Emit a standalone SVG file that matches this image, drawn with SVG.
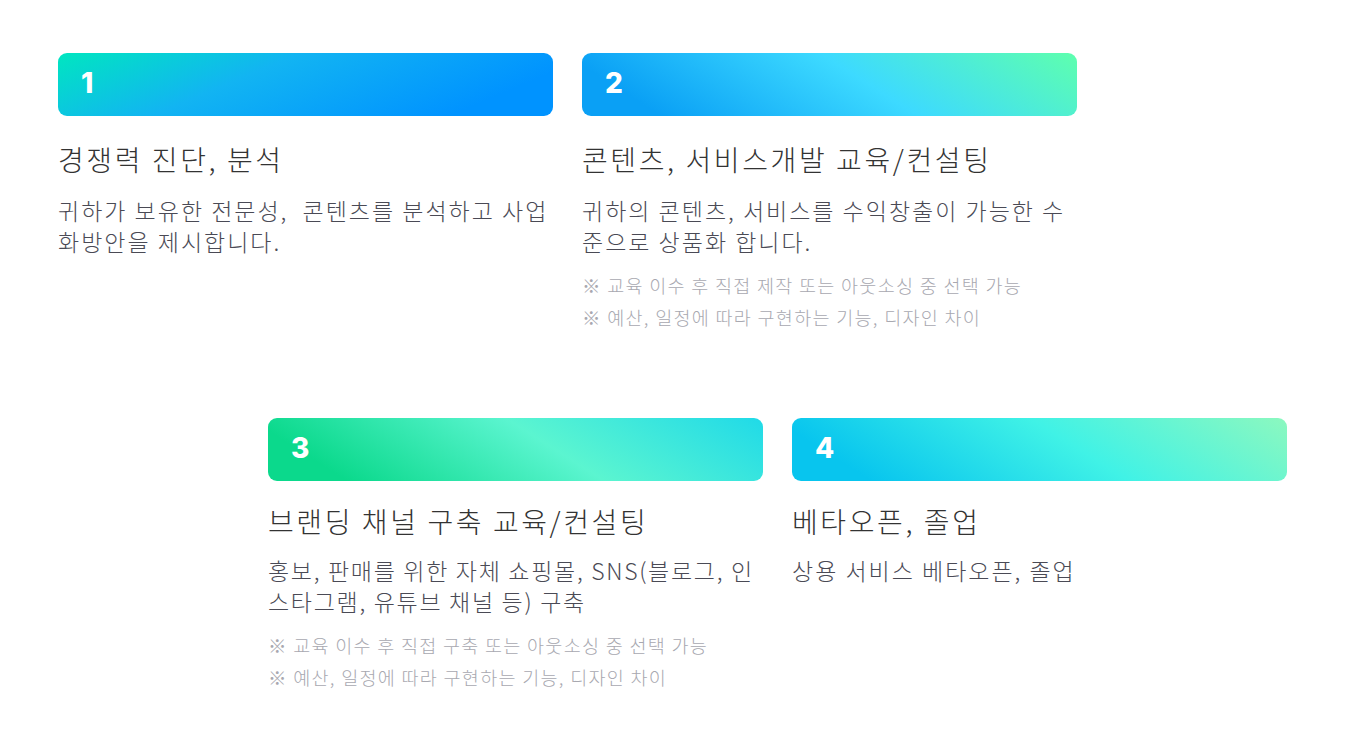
<svg xmlns="http://www.w3.org/2000/svg" width="1352" height="743" viewBox="0 0 1352 743">
<defs>
<linearGradient id="g1" x1="0" y1="0" x2="1" y2="0.3">
<stop offset="0" stop-color="#00e6c0"/><stop offset="0.45" stop-color="#12b4f2"/><stop offset="1" stop-color="#0093ff"/>
</linearGradient>
<linearGradient id="g2" x1="0" y1="0.2" x2="1" y2="0">
<stop offset="0" stop-color="#0aa0f5"/><stop offset="0.5" stop-color="#3ddaff"/><stop offset="1" stop-color="#5effae"/>
</linearGradient>
<linearGradient id="g3" x1="0" y1="0.2" x2="1" y2="0">
<stop offset="0" stop-color="#0bd98c"/><stop offset="0.5" stop-color="#5bf5d0"/><stop offset="1" stop-color="#20dae8"/>
</linearGradient>
<linearGradient id="g4" x1="0" y1="0.2" x2="1" y2="0">
<stop offset="0" stop-color="#08c5ee"/><stop offset="0.5" stop-color="#40f2e6"/><stop offset="1" stop-color="#8cf8bf"/>
</linearGradient>
<style>
text{white-space:pre}
.num{font-family:Inter,"Liberation Sans",sans-serif;font-weight:800;font-size:28px;fill:#fff}
.t{font-family:"Noto Sans CJK KR","Noto Sans",sans-serif;font-weight:300;font-size:28px;letter-spacing:2.6px;fill:#333333}
.b{font-family:"Noto Sans CJK KR","Noto Sans",sans-serif;font-weight:300;font-size:23px;letter-spacing:2px;fill:#4a4a55}
.b2{letter-spacing:1.7px}
.n{font-family:"Noto Sans CJK KR","Noto Sans",sans-serif;font-weight:300;font-size:18.5px;letter-spacing:1.3px;fill:#a8a8b0}
</style>
</defs>
<rect width="1352" height="743" fill="#ffffff"/>
<g id="node1">
<rect x="58" y="53" width="495" height="63" rx="9" fill="url(#g1)"/>
<text class="num" x="81" y="93">1</text>
<text class="t" x="58" y="171">경쟁력 진단, 분석</text>
<text class="b" x="58" y="220">귀하가 보유한 전문성,  콘텐츠를 분석하고 사업</text>
<text class="b" x="58" y="251">화방안을 제시합니다.</text>
</g>
<g id="node2">
<rect x="582" y="53" width="495" height="63" rx="9" fill="url(#g2)"/>
<text class="num" x="605" y="93">2</text>
<text class="t" x="582" y="171">콘텐츠, 서비스개발 교육/컨설팅</text>
<text class="b" x="582" y="220">귀하의 콘텐츠, 서비스를 수익창출이 가능한 수</text>
<text class="b" x="582" y="251">준으로 상품화 합니다.</text>
<text class="n" x="582" y="293">※ 교육 이수 후 직접 제작 또는 아웃소싱 중 선택 가능</text>
<text class="n" x="582" y="325">※ 예산, 일정에 따라 구현하는 기능, 디자인 차이</text>
</g>
<g id="node3">
<rect x="268" y="418" width="495" height="63" rx="9" fill="url(#g3)"/>
<text class="num" x="291" y="458">3</text>
<text class="t" x="268" y="533">브랜딩 채널 구축 교육/컨설팅</text>
<text class="b b2" x="268" y="580">홍보, 판매를 위한 자체 쇼핑몰, SNS(블로그, 인</text>
<text class="b b2" x="268" y="611">스타그램, 유튜브 채널 등) 구축</text>
<text class="n" x="268" y="653">※ 교육 이수 후 직접 구축 또는 아웃소싱 중 선택 가능</text>
<text class="n" x="268" y="685">※ 예산, 일정에 따라 구현하는 기능, 디자인 차이</text>
</g>
<g id="node4">
<rect x="792" y="418" width="495" height="63" rx="9" fill="url(#g4)"/>
<text class="num" x="815" y="458">4</text>
<text class="t" x="792" y="533">베타오픈, 졸업</text>
<text class="b" x="792" y="580">상용 서비스 베타오픈, 졸업</text>
</g>
<g id="connectors"></g>
</svg>
